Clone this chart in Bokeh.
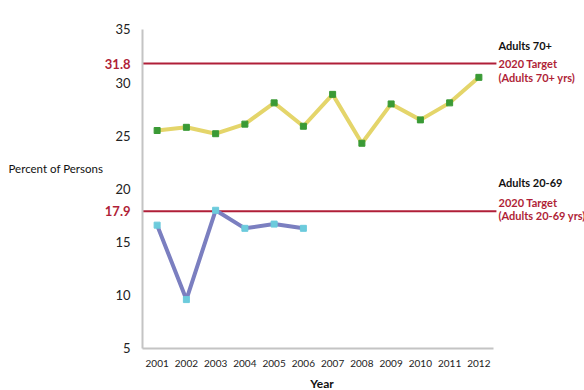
from bokeh.plotting import figure
from bokeh.models import FixedTicker, LinearAxis, Label, ColumnDataSource
from bokeh.core.properties import value
from bokeh.embed import file_html
from bokeh.resources import INLINE

years = [2001, 2002, 2003, 2004, 2005, 2006, 2007, 2008, 2009, 2010, 2011, 2012]
adults70 = [25.5, 25.8, 25.2, 26.1, 28.1, 25.9, 28.9, 24.3, 28.0, 26.5, 28.1, 30.5]
years_2069 = [2001, 2002, 2003, 2004, 2005, 2006]
adults2069 = [16.6, 9.6, 18.0, 16.3, 16.7, 16.3]
target70 = 31.8
target2069 = 17.9
y_ticks = [5, 10, 15, 20, 25, 30, 35]
side_texts = ["Adults 70+", "2020 Target", "(Adults 70+ yrs)",
              "Adults 20-69", "2020 Target", "(Adults 20-69 yrs)"]
side_y = [33.5, 31.8, 30.5, 20.6, 18.7, 17.5]
side_colors = ["#111111", "#b01f38", "#b01f38", "#111111", "#b01f38", "#b01f38"]

FONT = "Lato"
RED = "#b01f38"
X0, X1 = 2000.5, 2012.5
Y0, Y1 = 5, 35

# the plot frame fills the whole figure; axes are pinned at X0 / Y0
p = figure(width=584, height=390, output_backend="svg", toolbar_location=None,
           x_range=(1995.645, 2015.611), y_range=(1.05, 37.727),
           x_axis_type=None, y_axis_type=None,
           min_border_left=0, min_border_right=0, min_border_top=0, min_border_bottom=0)
p.outline_line_color = None
p.xgrid.visible = False

def style_axis(ax, size):
    ax.axis_line_color = "#c4c4c4"
    ax.axis_line_width = 2
    ax.major_tick_line_color = None
    ax.minor_tick_line_color = None
    ax.major_label_text_font = FONT
    ax.major_label_text_color = "#222222"
    ax.major_label_text_font_size = size

xaxis = LinearAxis(ticker=FixedTicker(ticks=years), fixed_location=Y0, bounds=(X0, X1))
style_axis(xaxis, "10px")
xaxis.major_label_standoff = 6
p.add_layout(xaxis, "below")

yaxis = LinearAxis(ticker=FixedTicker(ticks=y_ticks), fixed_location=X0, bounds=(Y0, Y1))
style_axis(yaxis, "13px")
yaxis.major_label_standoff = 6
p.add_layout(yaxis, "left")

red_axis = LinearAxis(ticker=FixedTicker(ticks=[target2069, target70]), fixed_location=X0)
style_axis(red_axis, "13px")
red_axis.axis_line_color = None
red_axis.major_label_text_color = RED
red_axis.major_label_text_font_style = "bold"
red_axis.major_label_standoff = 6
p.add_layout(red_axis, "left")

p.ygrid.ticker = FixedTicker(ticks=y_ticks)
p.ygrid.cross_bounds = (X0, X1)
p.ygrid.grid_line_color = "#dcdcdc"
p.ygrid.grid_line_width = 1.5

for t in (target70, target2069):
    p.segment(x0=[X0], x1=[X1 + 0.1], y0=[t], y1=[t], line_color=RED, line_width=2)

p.line(years, adults70, line_color="#e4d56a", line_width=4)
p.scatter(years, adults70, marker="square", size=6, fill_color="#3a9a35", line_color="#3a9a35")
p.line(years_2069, adults2069, line_color="#7b7fc0", line_width=4)
p.scatter(years_2069, adults2069, marker="square", size=6, fill_color="#6ccbdc", line_color="#6ccbdc")

src = ColumnDataSource(dict(x=[X1] * len(side_texts), y=side_y, t=side_texts, c=side_colors))
p.text(x="x", y="y", text="t", text_color="c", source=src, x_offset=5,
       text_font=value(FONT), text_font_size="11px", text_font_style="bold",
       text_align="left", text_baseline="middle")

p.add_layout(Label(x=X0, y=21.9, x_offset=-134, text="Percent of Persons",
                   text_font=FONT, text_font_size="11.5px", text_color="#111111",
                   text_align="left", text_baseline="middle"))
p.add_layout(Label(x=(X0 + X1) / 2, y=Y0, x_offset=4, y_offset=-35, text="Year",
                   text_font=FONT, text_font_size="12px", text_font_style="bold",
                   text_color="#111111", text_align="center", text_baseline="middle"))

open("out.html", "w").write(file_html(p, INLINE))
